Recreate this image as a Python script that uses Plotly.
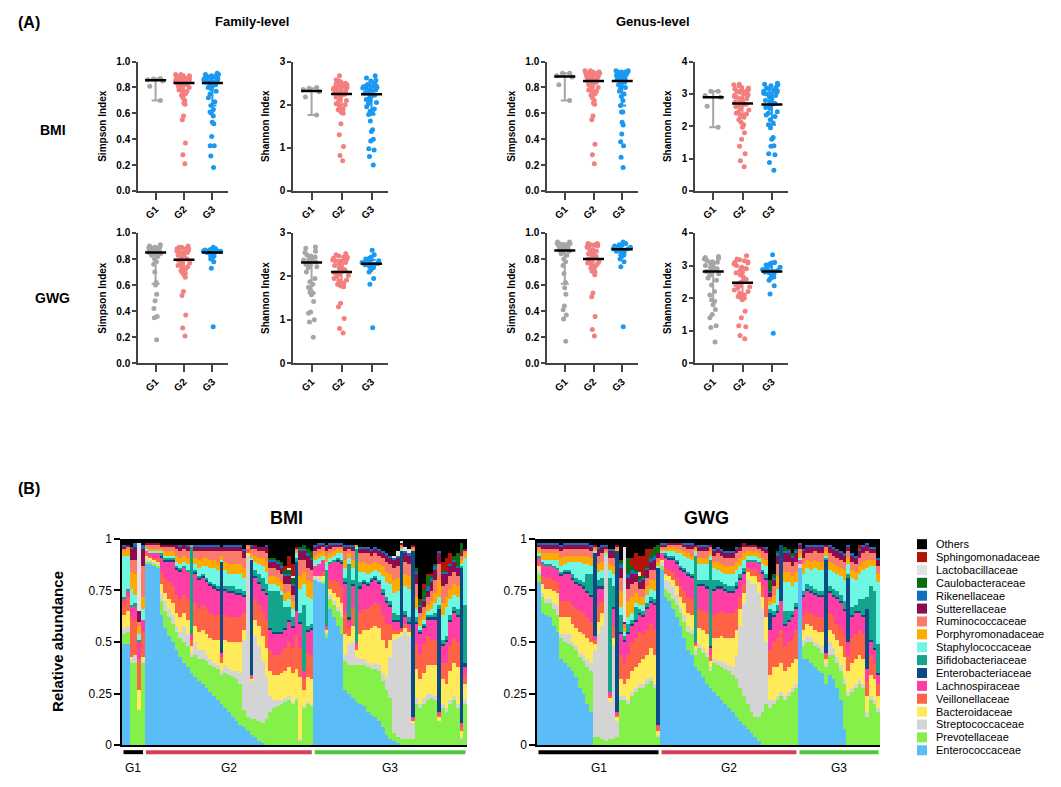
import plotly.graph_objects as go

W, H = 1061, 787
FONT = "Liberation Sans, Arial, sans-serif"

# ---------------- panel A: alpha diversity ----------------
groups = ["G1", "G2", "G3"]
group_colors = ["#a6a6a6", "#f47f7f", "#1a98f2"]

# family-level, BMI
fam_simpson_bmi_g1 = [0.87, 0.865, 0.86, 0.85, 0.81, 0.70]
fam_simpson_bmi_g2 = [0.90, 0.90, 0.89, 0.89, 0.89, 0.88, 0.88, 0.88, 0.87, 0.87, 0.87, 0.86, 0.86, 0.86, 0.86,
                      0.85, 0.85, 0.85, 0.84, 0.84, 0.84, 0.83, 0.83, 0.83, 0.82, 0.82, 0.81, 0.81, 0.80, 0.80,
                      0.79, 0.78, 0.77, 0.76, 0.75, 0.74, 0.72, 0.70, 0.68, 0.67, 0.58, 0.55, 0.37, 0.28, 0.21]
fam_simpson_bmi_g3 = [0.91, 0.90, 0.90, 0.89, 0.89, 0.88, 0.88, 0.88, 0.87, 0.87, 0.86, 0.86, 0.86, 0.85, 0.85,
                      0.84, 0.84, 0.84, 0.83, 0.83, 0.82, 0.81, 0.80, 0.80, 0.79, 0.77, 0.75, 0.72, 0.69, 0.66,
                      0.63, 0.61, 0.60, 0.58, 0.53, 0.52, 0.42, 0.35, 0.35, 0.27, 0.18]
fam_shannon_bmi_g1 = [2.40, 2.38, 2.35, 2.30, 2.18, 1.76]
fam_shannon_bmi_g2 = [2.67, 2.58, 2.55, 2.52, 2.50, 2.48, 2.46, 2.45, 2.44, 2.43, 2.42, 2.41, 2.40, 2.39, 2.38,
                      2.36, 2.35, 2.33, 2.31, 2.30, 2.28, 2.27, 2.26, 2.25, 2.24, 2.22, 2.20, 2.17, 2.14, 2.10,
                      2.06, 2.02, 2.00, 1.95, 1.90, 1.88, 1.86, 1.83, 1.82, 1.80, 1.56, 1.30, 1.03, 0.82, 0.70]
fam_shannon_bmi_g3 = [2.67, 2.62, 2.57, 2.55, 2.50, 2.47, 2.45, 2.44, 2.43, 2.42, 2.40, 2.39, 2.38, 2.36, 2.34,
                      2.33, 2.30, 2.27, 2.25, 2.24, 2.22, 2.20, 2.15, 2.12, 2.10, 2.05, 2.02, 1.95, 1.90, 1.85,
                      1.80, 1.77, 1.62, 1.42, 1.38, 1.20, 1.16, 0.98, 0.95, 0.80, 0.60]
# genus-level, BMI
gen_simpson_bmi_g1 = [0.91, 0.91, 0.89, 0.88, 0.82, 0.70]
gen_simpson_bmi_g2 = [0.93, 0.93, 0.92, 0.92, 0.92, 0.91, 0.91, 0.91, 0.90, 0.90, 0.90, 0.90, 0.89, 0.89, 0.88,
                      0.88, 0.87, 0.87, 0.86, 0.86, 0.85, 0.85, 0.85, 0.84, 0.84, 0.83, 0.82, 0.82, 0.81, 0.80,
                      0.79, 0.78, 0.77, 0.76, 0.75, 0.74, 0.72, 0.70, 0.68, 0.67, 0.58, 0.55, 0.36, 0.28, 0.21]
gen_simpson_bmi_g3 = [0.93, 0.93, 0.92, 0.92, 0.92, 0.92, 0.91, 0.91, 0.90, 0.90, 0.90, 0.89, 0.88, 0.88, 0.87,
                      0.87, 0.86, 0.86, 0.85, 0.85, 0.84, 0.84, 0.83, 0.82, 0.81, 0.80, 0.79, 0.77, 0.75, 0.73,
                      0.70, 0.66, 0.61, 0.61, 0.53, 0.51, 0.44, 0.38, 0.35, 0.26, 0.18]
gen_shannon_bmi_g1 = [3.08, 3.08, 2.95, 2.90, 2.62, 1.97]
gen_shannon_bmi_g2 = [3.30, 3.28, 3.25, 3.20, 3.18, 3.15, 3.14, 3.12, 3.10, 3.08, 3.05, 3.00, 2.98, 2.96, 2.95,
                      2.92, 2.90, 2.88, 2.85, 2.82, 2.78, 2.75, 2.72, 2.70, 2.68, 2.65, 2.62, 2.60, 2.55, 2.50,
                      2.45, 2.40, 2.38, 2.30, 2.28, 2.20, 2.12, 2.05, 1.97, 1.80, 1.60, 1.38, 1.15, 0.93, 0.75]
gen_shannon_bmi_g3 = [3.33, 3.30, 3.28, 3.25, 3.20, 3.18, 3.15, 3.12, 3.10, 3.08, 3.05, 3.02, 3.00, 2.98, 2.95,
                      2.90, 2.85, 2.80, 2.75, 2.72, 2.70, 2.67, 2.62, 2.58, 2.55, 2.45, 2.40, 2.35, 2.30, 2.20,
                      2.10, 2.05, 1.95, 1.65, 1.60, 1.40, 1.38, 1.15, 1.12, 0.88, 0.64]
# family-level, GWG
fam_simpson_gwg_g1 = [0.91, 0.90, 0.90, 0.89, 0.89, 0.89, 0.88, 0.88, 0.87, 0.87, 0.87, 0.86, 0.86, 0.85, 0.85,
                      0.85, 0.84, 0.84, 0.84, 0.83, 0.82, 0.80, 0.78, 0.76, 0.70, 0.62, 0.60, 0.53, 0.48, 0.42,
                      0.36, 0.35, 0.18]
fam_simpson_gwg_g2 = [0.90, 0.89, 0.89, 0.88, 0.88, 0.88, 0.87, 0.86, 0.86, 0.85, 0.85, 0.84, 0.83, 0.83, 0.82,
                      0.81, 0.80, 0.80, 0.79, 0.79, 0.78, 0.77, 0.76, 0.75, 0.74, 0.73, 0.72, 0.71, 0.70, 0.69,
                      0.68, 0.66, 0.55, 0.52, 0.37, 0.27, 0.21]
fam_simpson_gwg_g3 = [0.89, 0.88, 0.88, 0.87, 0.87, 0.87, 0.86, 0.86, 0.86, 0.86, 0.85, 0.85, 0.85, 0.84, 0.84,
                      0.83, 0.82, 0.81, 0.80, 0.78, 0.73, 0.28]
fam_shannon_gwg_g1 = [2.68, 2.65, 2.58, 2.55, 2.50, 2.47, 2.45, 2.42, 2.40, 2.38, 2.36, 2.35, 2.33, 2.32, 2.30,
                      2.28, 2.25, 2.22, 2.20, 2.10, 1.95, 1.88, 1.82, 1.75, 1.68, 1.62, 1.58, 1.42, 1.18, 1.15,
                      1.00, 0.95, 0.60]
fam_shannon_gwg_g2 = [2.52, 2.50, 2.47, 2.45, 2.44, 2.42, 2.40, 2.38, 2.36, 2.35, 2.32, 2.30, 2.27, 2.25, 2.20,
                      2.18, 2.15, 2.12, 2.10, 2.08, 2.05, 2.02, 2.00, 1.95, 1.92, 1.90, 1.85, 1.82, 1.80, 1.79,
                      1.78, 1.76, 1.38, 1.30, 1.03, 0.80, 0.70]
fam_shannon_gwg_g3 = [2.60, 2.50, 2.45, 2.42, 2.40, 2.38, 2.36, 2.34, 2.32, 2.30, 2.30, 2.28, 2.27, 2.26, 2.24,
                      2.22, 2.20, 2.15, 2.10, 1.95, 1.82, 0.82]
# genus-level, GWG
gen_simpson_gwg_g1 = [0.93, 0.93, 0.92, 0.92, 0.92, 0.91, 0.91, 0.91, 0.90, 0.90, 0.89, 0.89, 0.88, 0.88, 0.87,
                      0.87, 0.86, 0.86, 0.85, 0.84, 0.83, 0.80, 0.78, 0.75, 0.69, 0.62, 0.58, 0.53, 0.44, 0.41,
                      0.37, 0.34, 0.17]
gen_simpson_gwg_g2 = [0.92, 0.92, 0.91, 0.91, 0.91, 0.90, 0.90, 0.89, 0.88, 0.87, 0.86, 0.86, 0.85, 0.84, 0.83,
                      0.82, 0.82, 0.81, 0.80, 0.80, 0.79, 0.78, 0.78, 0.77, 0.76, 0.75, 0.74, 0.73, 0.72, 0.71,
                      0.70, 0.68, 0.54, 0.51, 0.36, 0.26, 0.21]
gen_simpson_gwg_g3 = [0.93, 0.92, 0.91, 0.91, 0.90, 0.90, 0.89, 0.89, 0.88, 0.88, 0.87, 0.87, 0.86, 0.86, 0.85,
                      0.84, 0.83, 0.82, 0.80, 0.78, 0.74, 0.28]
gen_shannon_gwg_g1 = [3.28, 3.25, 3.22, 3.20, 3.15, 3.12, 3.10, 3.08, 3.05, 3.00, 2.95, 2.92, 2.90, 2.88, 2.85,
                      2.82, 2.80, 2.75, 2.70, 2.62, 2.55, 2.40, 2.20, 2.10, 1.95, 1.90, 1.80, 1.65, 1.50, 1.40,
                      1.15, 1.10, 0.65]
gen_shannon_gwg_g2 = [3.30, 3.20, 3.18, 3.15, 3.12, 3.10, 3.08, 3.05, 3.00, 2.95, 2.90, 2.85, 2.80, 2.78, 2.72,
                      2.65, 2.58, 2.50, 2.47, 2.42, 2.38, 2.35, 2.30, 2.25, 2.20, 2.15, 2.10, 2.05, 2.02, 2.00,
                      1.95, 1.60, 1.40, 1.15, 1.12, 0.85, 0.75]
gen_shannon_gwg_g3 = [3.33, 3.10, 3.08, 3.05, 3.02, 3.00, 2.95, 2.90, 2.88, 2.85, 2.84, 2.82, 2.80, 2.78, 2.75,
                      2.70, 2.65, 2.62, 2.55, 2.38, 2.13, 0.92]

# median and interquartile range drawn on each scatter (G1, G2, G3)
fam_simpson_bmi_med, fam_simpson_bmi_q1, fam_simpson_bmi_q3 = [0.855, 0.835, 0.835], [0.70, 0.75, 0.66], [0.87, 0.88, 0.88]
fam_shannon_bmi_med, fam_shannon_bmi_q1, fam_shannon_bmi_q3 = [2.32, 2.25, 2.24], [1.76, 2.00, 1.77], [2.38, 2.42, 2.43]
gen_simpson_bmi_med, gen_simpson_bmi_q1, gen_simpson_bmi_q3 = [0.885, 0.85, 0.85], [0.70, 0.75, 0.66], [0.91, 0.92, 0.92]
gen_shannon_bmi_med, gen_shannon_bmi_q1, gen_shannon_bmi_q3 = [2.90, 2.70, 2.67], [1.97, 2.38, 2.05], [3.08, 3.10, 3.05]
fam_simpson_gwg_med, fam_simpson_gwg_q1, fam_simpson_gwg_q3 = [0.85, 0.795, 0.85], [0.61, 0.69, 0.82], [0.89, 0.875, 0.87]
fam_shannon_gwg_med, fam_shannon_gwg_q1, fam_shannon_gwg_q3 = [2.32, 2.10, 2.29], [1.62, 1.78, 2.20], [2.45, 2.38, 2.38]
gen_simpson_gwg_med, gen_simpson_gwg_q1, gen_simpson_gwg_q3 = [0.865, 0.80, 0.875], [0.61, 0.70, 0.83], [0.92, 0.91, 0.91]
gen_shannon_gwg_med, gen_shannon_gwg_q1, gen_shannon_gwg_q3 = [2.82, 2.47, 2.82], [1.93, 2.00, 2.62], [3.10, 2.95, 3.05]

# ---------------- panel B: relative abundance (%) per sample ----------------
families = ["Enterococcaceae", "Prevotellaceae", "Streptococcaceae", "Bacteroidaceae", "Veillonellaceae",
            "Lachnospiraceae", "Enterobacteriaceae", "Bifidobacteriaceae", "Staphylococcaceae",
            "Porphyromonadaceae", "Ruminococcaceae", "Sutterellaceae", "Rikenellaceae", "Caulobacteraceae",
            "Lactobacillaceae", "Sphingomonadaceae", "Others"]
family_colors = ["#5bbdf8", "#86f04a", "#d4d4d4", "#ffea5a", "#ff6347", "#ff3ea5", "#0b4a85", "#14a38b",
                 "#6ff7e4", "#ffaa00", "#fb7b6b", "#8b0b4e", "#1070c0", "#0c6b0c", "#e2e2e2", "#b31408", "#000000"]

bmi_group_sizes = [6, 45, 41]
gwg_group_sizes = [33, 37, 22]
group_line_colors = ["#000000", "#d8405a", "#4cc83a"]

bmi_enterococcaceae = [49, 49, 0, 0, 0, 0, 88, 88, 87, 86, 63, 57, 53, 50, 46, 43, 40, 38, 35, 33,
                       31, 30, 28, 26, 24, 22, 20, 18, 16, 14, 12, 10, 9, 7, 5, 4, 2, 1, 0, 0,
                       0, 0, 0, 0, 0, 0, 0, 0, 0, 0, 0, 80, 79, 78, 52, 66, 62, 58, 54, 27,
                       25, 23, 21, 20, 19, 16, 15, 14, 12, 9, 5, 3, 2, 1, 0, 0, 0, 0, 0, 0,
                       0, 0, 0, 0, 0, 0, 0, 0, 0, 0, 0, 0]
bmi_prevotellaceae = [5, 6, 40, 40, 17, 40, 1, 1, 1, 1, 7, 8, 9, 9, 9, 9, 10, 10, 8, 11,
                      11, 12, 13, 13, 14, 15, 14, 17, 18, 19, 20, 20, 8, 7, 8, 9, 10, 10, 13, 16,
                      18, 19, 20, 21, 22, 20, 22, 2, 18, 20, 19, 0, 0, 1, 2, 5, 6, 7, 8, 14,
                      14, 16, 18, 19, 20, 22, 22, 23, 24, 22, 22, 20, 4, 3, 3, 3, 3, 3, 20, 18,
                      20, 22, 23, 22, 12, 18, 16, 20, 22, 18, 3, 20]
bmi_streptococcaceae = [3, 3, 2, 4, 0, 1, 2, 1, 1, 1, 4, 5, 4, 4, 3, 3, 8, 6, 2, 6,
                        4, 4, 3, 3, 2, 2, 2, 4, 3, 3, 4, 5, 34, 78, 18, 40, 36, 30, 20, 8,
                        4, 3, 2, 2, 2, 1, 1, 1, 1, 1, 1, 2, 2, 1, 1, 2, 2, 2, 2, 3,
                        10, 11, 4, 3, 3, 2, 2, 3, 3, 4, 6, 20, 45, 48, 50, 52, 50, 8, 3, 2,
                        3, 3, 2, 2, 0, 2, 2, 2, 2, 2, 1, 2]
bmi_bacteroidaceae = [6, 7, 1, 0, 10, 2, 1, 1, 1, 1, 4, 4, 5, 6, 6, 7, 6, 7, 3, 8,
                      9, 10, 10, 10, 11, 12, 4, 12, 13, 14, 14, 15, 5, 1, 1, 8, 10, 12, 14, 12,
                      12, 12, 13, 13, 14, 14, 14, 30, 8, 12, 12, 0, 1, 2, 1, 3, 4, 5, 5, 10,
                      4, 8, 3, 12, 14, 16, 18, 18, 18, 16, 14, 8, 3, 2, 2, 2, 2, 1, 14, 12,
                      12, 14, 14, 15, 2, 12, 12, 14, 16, 18, 3, 8]
bmi_veillonellaceae = [6, 7, 19, 17, 15, 12, 1, 1, 1, 2, 6, 7, 8, 8, 9, 9, 9, 10, 3, 11,
                       11, 12, 12, 12, 12, 12, 3, 12, 12, 12, 12, 12, 8, 1, 1, 10, 10, 12, 14, 10,
                       10, 10, 10, 11, 12, 12, 16, 14, 5, 12, 12, 0, 0, 2, 1, 4, 6, 7, 8, 10,
                       4, 9, 2, 10, 10, 10, 11, 11, 11, 12, 12, 8, 2, 2, 1, 2, 2, 1, 12, 12,
                       14, 14, 12, 12, 1, 8, 10, 12, 12, 12, 2, 4]
bmi_lachnospiraceae = [2, 3, 5, 6, 8, 6, 1, 1, 2, 2, 7, 8, 10, 12, 12, 13, 13, 13, 3, 14,
                       14, 13, 13, 13, 13, 12, 2, 12, 12, 12, 11, 11, 8, 1, 1, 10, 10, 10, 12, 10,
                       10, 10, 9, 9, 10, 10, 12, 12, 4, 10, 12, 5, 6, 6, 1, 8, 9, 10, 11, 14,
                       4, 10, 2, 12, 12, 11, 11, 11, 10, 10, 10, 8, 4, 4, 1, 3, 2, 1, 10, 10,
                       8, 8, 10, 10, 1, 8, 10, 12, 12, 12, 2, 4]
bmi_enterobacteriaceae = [0, 0, 0, 0, 0, 0, 0, 0, 0, 0, 1, 1, 1, 1, 1, 1, 0, 0, 0, 1,
                          1, 1, 1, 1, 1, 1, 44, 1, 1, 1, 1, 1, 1, 0, 56, 1, 1, 1, 1, 1,
                          1, 1, 1, 1, 1, 1, 24, 1, 0, 1, 1, 0, 0, 0, 0, 0, 0, 1, 1, 1,
                          1, 1, 0, 1, 1, 1, 1, 1, 1, 1, 1, 1, 1, 1, 37, 1, 1, 80, 1, 1,
                          1, 1, 1, 1, 50, 1, 1, 1, 1, 1, 75, 2]
bmi_bifidobacteriaceae = [1, 1, 1, 2, 1, 0, 0, 0, 0, 0, 1, 1, 1, 1, 1, 1, 1, 1, 42, 1,
                          1, 1, 1, 1, 1, 1, 0, 1, 2, 2, 2, 2, 2, 0, 0, 3, 4, 5, 4, 18,
                          20, 20, 18, 10, 6, 4, 2, 4, 32, 2, 2, 0, 0, 0, 27, 1, 1, 1, 1, 2,
                          26, 2, 45, 2, 1, 1, 1, 1, 1, 2, 2, 2, 3, 2, 0, 2, 2, 0, 2, 1,
                          1, 1, 1, 2, 2, 2, 2, 2, 2, 3, 1, 28]
bmi_staphylococcaceae = [20, 16, 8, 4, 3, 5, 1, 1, 1, 1, 1, 1, 1, 1, 2, 2, 2, 3, 0, 3,
                         4, 4, 6, 7, 8, 8, 1, 8, 6, 6, 7, 7, 6, 0, 1, 4, 5, 6, 6, 3,
                         3, 2, 2, 3, 4, 4, 2, 12, 10, 14, 12, 3, 3, 2, 4, 2, 2, 2, 3, 5,
                         3, 6, 1, 5, 4, 4, 3, 3, 4, 6, 7, 8, 10, 12, 1, 12, 14, 0, 4, 2,
                         2, 2, 3, 5, 4, 12, 14, 8, 6, 6, 1, 23]
bmi_porphyromonadaceae = [2, 3, 8, 10, 4, 6, 1, 1, 1, 1, 1, 2, 2, 2, 3, 3, 3, 3, 0, 3,
                          4, 4, 4, 4, 4, 4, 2, 4, 5, 5, 5, 5, 5, 1, 2, 3, 3, 4, 5, 4,
                          4, 4, 4, 4, 4, 4, 1, 6, 6, 8, 8, 2, 2, 2, 3, 2, 2, 2, 2, 4,
                          2, 4, 1, 5, 5, 5, 4, 4, 4, 5, 5, 5, 6, 6, 1, 6, 6, 1, 6, 3,
                          3, 3, 4, 5, 8, 6, 5, 5, 5, 5, 2, 2]
bmi_ruminococcaceae = [1, 1, 6, 7, 2, 15, 1, 2, 2, 2, 1, 2, 2, 2, 3, 3, 3, 3, 1, 3,
                       4, 3, 3, 4, 4, 5, 2, 5, 6, 6, 6, 6, 5, 1, 2, 3, 3, 3, 4, 4,
                       4, 4, 4, 4, 3, 3, 1, 8, 6, 6, 6, 2, 2, 2, 2, 2, 2, 1, 1, 4,
                       2, 4, 0, 4, 4, 5, 4, 4, 4, 4, 5, 5, 6, 6, 1, 6, 6, 1, 6, 3,
                       3, 4, 5, 6, 8, 8, 6, 6, 6, 5, 2, 1]
bmi_sutterellaceae = [1, 1, 5, 6, 5, 8, 1, 1, 1, 1, 1, 1, 1, 1, 2, 2, 2, 2, 0, 2,
                      2, 2, 2, 2, 2, 2, 2, 2, 2, 2, 2, 2, 3, 0, 1, 2, 2, 2, 3, 3,
                      3, 3, 3, 4, 4, 4, 1, 4, 4, 6, 5, 2, 2, 1, 2, 2, 1, 1, 1, 2,
                      1, 2, 0, 2, 2, 2, 2, 2, 2, 2, 3, 3, 4, 4, 1, 4, 4, 1, 5, 3,
                      3, 3, 4, 5, 5, 6, 5, 5, 5, 4, 1, 1]
bmi_rikenellaceae = [1, 0, 1, 2, 0, 2, 0, 0, 0, 0, 0, 0, 0, 0, 0, 1, 0, 1, 0, 1,
                     1, 1, 1, 1, 1, 1, 0, 1, 1, 1, 1, 1, 1, 0, 1, 0, 0, 0, 1, 1,
                     1, 1, 1, 1, 1, 1, 0, 1, 1, 1, 1, 1, 1, 1, 1, 1, 1, 1, 1, 1,
                     1, 1, 0, 1, 1, 1, 1, 1, 1, 1, 1, 1, 1, 1, 0, 1, 1, 0, 1, 1,
                     1, 2, 2, 2, 1, 1, 1, 1, 1, 1, 0, 0]
bmi_caulobacteraceae = [0, 0, 0, 0, 0, 0, 0, 0, 0, 0, 0, 0, 0, 0, 0, 0, 0, 0, 0, 0,
                        0, 0, 0, 0, 0, 0, 0, 0, 0, 0, 0, 0, 0, 0, 0, 0, 0, 0, 0, 1,
                        1, 1, 2, 2, 2, 3, 0, 1, 2, 2, 3, 0, 0, 0, 0, 0, 0, 0, 0, 0,
                        0, 0, 0, 0, 0, 0, 0, 0, 0, 0, 0, 0, 0, 0, 0, 0, 0, 0, 2, 2,
                        5, 5, 1, 1, 0, 1, 0, 0, 2, 6, 5, 0]
bmi_lactobacillaceae = [0, 0, 0, 0, 33, 0, 0, 0, 0, 0, 0, 0, 0, 0, 0, 0, 0, 0, 0, 0,
                        0, 0, 0, 0, 0, 0, 0, 0, 0, 0, 0, 0, 0, 0, 0, 0, 0, 0, 0, 0,
                        0, 0, 0, 0, 1, 1, 0, 0, 0, 0, 0, 0, 0, 0, 0, 0, 0, 0, 0, 0,
                        0, 0, 0, 0, 0, 0, 0, 0, 0, 0, 0, 0, 1, 2, 1, 2, 2, 0, 0, 0,
                        0, 0, 0, 0, 0, 0, 0, 0, 0, 0, 0, 0]
bmi_sphingomonadaceae = [0, 0, 0, 0, 0, 0, 0, 0, 0, 0, 0, 0, 0, 0, 0, 0, 0, 0, 0, 0,
                         0, 0, 0, 0, 0, 0, 0, 0, 0, 0, 0, 0, 0, 0, 0, 0, 0, 0, 0, 0,
                         0, 0, 0, 2, 6, 6, 0, 0, 0, 0, 0, 0, 0, 0, 0, 0, 0, 0, 0, 0,
                         0, 0, 0, 0, 0, 0, 0, 0, 0, 0, 0, 0, 0, 0, 0, 0, 0, 0, 0, 1,
                         2, 1, 1, 0, 0, 4, 7, 5, 0, 0, 0, 0]

gwg_enterococcaceae = [79, 64, 63, 62, 58, 55, 42, 40, 38, 36, 33, 28, 25, 20, 16, 0, 0, 0, 0, 0,
                       0, 0, 0, 0, 0, 0, 0, 0, 0, 0, 0, 0, 0, 85, 72, 70, 66, 62, 58, 52,
                       46, 44, 38, 36, 33, 30, 28, 26, 24, 22, 20, 18, 16, 14, 12, 10, 8, 6, 4, 2,
                       0, 0, 0, 0, 0, 0, 0, 0, 0, 0, 86, 42, 42, 40, 38, 36, 35, 30, 34, 32,
                       28, 22, 8, 0, 0, 0, 0, 0, 0, 0, 0, 0]
gwg_prevotellaceae = [4, 8, 6, 7, 8, 8, 10, 10, 11, 12, 13, 15, 16, 18, 20, 4, 4, 3, 2, 3,
                      3, 4, 22, 22, 20, 24, 26, 28, 28, 30, 31, 28, 4, 2, 4, 4, 5, 6, 6, 8,
                      9, 10, 6, 11, 12, 13, 8, 14, 15, 16, 17, 18, 18, 18, 16, 14, 12, 10, 10, 12,
                      16, 20, 18, 20, 22, 24, 22, 24, 26, 28, 0, 6, 8, 10, 10, 11, 10, 8, 10, 12,
                      12, 14, 22, 24, 26, 28, 30, 28, 14, 22, 20, 16]
gwg_streptococcaceae = [2, 2, 2, 2, 3, 5, 2, 4, 5, 2, 2, 2, 3, 4, 4, 42, 50, 55, 90, 18,
                        45, 8, 2, 2, 2, 2, 2, 2, 2, 2, 2, 2, 1, 2, 4, 5, 6, 5, 3, 3,
                        3, 2, 2, 2, 2, 2, 2, 2, 2, 3, 3, 3, 4, 12, 30, 45, 60, 62, 64, 60,
                        50, 30, 4, 2, 2, 2, 2, 2, 2, 2, 2, 3, 3, 2, 2, 2, 3, 2, 6, 3,
                        3, 3, 3, 2, 2, 2, 2, 2, 2, 2, 2, 2]
gwg_bacteroidaceae = [2, 4, 5, 5, 6, 6, 8, 8, 8, 9, 9, 10, 10, 10, 10, 3, 6, 6, 0, 2,
                      4, 2, 8, 6, 10, 10, 10, 10, 12, 12, 14, 14, 2, 1, 3, 3, 3, 4, 5, 6,
                      6, 7, 2, 8, 9, 9, 3, 10, 11, 12, 12, 13, 14, 12, 8, 5, 4, 4, 4, 5,
                      6, 12, 12, 16, 14, 14, 12, 12, 12, 12, 0, 5, 6, 6, 6, 6, 7, 2, 6, 7,
                      8, 9, 10, 10, 12, 12, 12, 12, 8, 10, 10, 6]
gwg_veillonellaceae = [1, 4, 5, 5, 5, 5, 8, 8, 8, 9, 9, 10, 10, 10, 10, 2, 8, 6, 0, 1,
                       6, 1, 12, 10, 12, 14, 14, 15, 12, 12, 12, 12, 2, 1, 3, 3, 4, 4, 5, 6,
                       8, 8, 1, 9, 9, 10, 3, 11, 12, 12, 12, 12, 12, 10, 6, 4, 2, 3, 3, 4,
                       5, 10, 12, 12, 14, 16, 12, 12, 12, 14, 0, 6, 6, 6, 7, 7, 7, 2, 8, 8,
                       8, 9, 10, 8, 12, 12, 12, 12, 7, 10, 8, 6]
gwg_lachnospiraceae = [3, 6, 6, 6, 6, 6, 12, 13, 13, 12, 12, 12, 12, 12, 12, 2, 8, 6, 0, 2,
                       8, 1, 10, 10, 10, 8, 8, 8, 8, 10, 10, 12, 1, 2, 5, 5, 6, 7, 8, 9,
                       10, 10, 1, 11, 12, 12, 3, 12, 12, 11, 11, 10, 10, 10, 8, 5, 3, 4, 4, 5,
                       6, 8, 10, 12, 12, 14, 10, 10, 10, 10, 2, 10, 10, 10, 10, 10, 10, 1, 10, 10,
                       12, 12, 12, 6, 10, 10, 8, 8, 6, 6, 6, 4]
gwg_enterobacteriaceae = [0, 0, 0, 0, 0, 0, 1, 1, 1, 1, 1, 1, 1, 1, 1, 40, 1, 1, 0, 0,
                          1, 78, 1, 1, 1, 1, 1, 1, 1, 1, 1, 1, 76, 0, 1, 1, 1, 1, 1, 1,
                          1, 1, 0, 1, 1, 1, 1, 1, 1, 1, 1, 1, 1, 1, 1, 1, 0, 0, 0, 0,
                          1, 1, 8, 1, 1, 27, 1, 1, 1, 1, 0, 1, 1, 1, 1, 1, 1, 45, 1, 1,
                          1, 1, 1, 31, 1, 1, 1, 1, 29, 1, 1, 1]
gwg_bifidobacteriaceae = [1, 1, 1, 1, 1, 1, 1, 1, 1, 2, 2, 2, 2, 8, 10, 0, 3, 4, 0, 55,
                          10, 0, 8, 2, 4, 2, 6, 2, 2, 2, 2, 2, 0, 0, 1, 1, 1, 1, 1, 1,
                          1, 1, 42, 2, 2, 3, 42, 4, 3, 2, 2, 2, 2, 2, 2, 2, 1, 1, 1, 1,
                          1, 2, 2, 2, 3, 0, 6, 4, 2, 2, 0, 2, 2, 2, 2, 2, 2, 1, 2, 3,
                          3, 3, 4, 2, 4, 3, 6, 8, 6, 26, 28, 14]
gwg_staphylococcaceae = [1, 1, 2, 2, 3, 4, 3, 3, 4, 6, 8, 9, 9, 5, 4, 1, 4, 4, 1, 4,
                         6, 0, 4, 2, 3, 3, 2, 2, 3, 4, 4, 4, 1, 1, 1, 2, 2, 3, 6, 6,
                         7, 7, 2, 8, 8, 8, 2, 6, 5, 5, 5, 6, 6, 6, 4, 4, 2, 2, 2, 2,
                         3, 4, 2, 4, 8, 0, 14, 14, 12, 10, 1, 8, 8, 8, 10, 10, 10, 1, 8, 8,
                         8, 9, 10, 5, 14, 12, 12, 14, 14, 10, 12, 30]
gwg_porphyromonadaceae = [2, 3, 3, 3, 3, 3, 4, 4, 3, 3, 3, 3, 4, 4, 4, 1, 4, 4, 1, 3,
                          4, 1, 8, 2, 8, 8, 5, 4, 4, 4, 4, 5, 2, 1, 1, 2, 2, 2, 2, 2,
                          2, 2, 1, 3, 3, 3, 2, 3, 4, 4, 4, 4, 4, 4, 4, 3, 2, 2, 2, 2,
                          3, 3, 2, 4, 6, 0, 5, 5, 5, 5, 2, 5, 4, 4, 4, 4, 4, 2, 4, 4,
                          4, 4, 5, 3, 4, 4, 4, 4, 4, 3, 3, 4]
gwg_ruminococcaceae = [1, 2, 2, 2, 2, 2, 3, 3, 3, 3, 3, 3, 3, 3, 3, 1, 4, 4, 1, 3,
                       4, 1, 6, 2, 6, 6, 5, 4, 4, 4, 5, 5, 2, 1, 1, 1, 1, 2, 2, 2,
                       2, 3, 1, 3, 3, 3, 2, 3, 4, 4, 4, 4, 4, 4, 3, 3, 2, 2, 2, 2,
                       3, 3, 2, 4, 6, 0, 5, 5, 5, 5, 2, 3, 3, 4, 4, 4, 4, 2, 4, 4,
                       4, 4, 4, 3, 4, 4, 4, 4, 4, 3, 3, 4]
gwg_sutterellaceae = [1, 2, 2, 2, 2, 2, 2, 2, 2, 2, 2, 2, 2, 2, 2, 1, 3, 3, 1, 3,
                      3, 1, 5, 1, 5, 5, 4, 3, 4, 4, 4, 5, 2, 1, 1, 1, 1, 1, 1, 1,
                      2, 2, 1, 2, 2, 2, 1, 2, 2, 2, 2, 2, 2, 2, 2, 2, 1, 1, 1, 1,
                      2, 2, 2, 3, 4, 0, 4, 4, 4, 4, 2, 3, 3, 3, 2, 3, 3, 1, 3, 3,
                      3, 3, 3, 2, 3, 3, 3, 3, 3, 2, 2, 3]
gwg_rikenellaceae = [1, 1, 1, 1, 1, 1, 1, 1, 1, 1, 1, 1, 1, 1, 1, 0, 1, 1, 1, 1,
                     1, 0, 2, 0, 2, 2, 1, 1, 1, 1, 2, 2, 0, 1, 1, 0, 0, 0, 0, 1,
                     1, 1, 0, 1, 1, 1, 0, 1, 1, 1, 1, 1, 1, 1, 0, 0, 0, 0, 0, 0,
                     0, 1, 1, 1, 1, 0, 1, 1, 1, 1, 1, 1, 1, 1, 1, 1, 1, 0, 1, 1,
                     1, 1, 1, 1, 1, 1, 1, 1, 1, 1, 1, 1]
gwg_caulobacteraceae = [0, 0, 0, 0, 0, 0, 0, 0, 0, 0, 0, 0, 0, 0, 0, 0, 0, 0, 0, 0,
                        0, 0, 2, 0, 8, 2, 1, 2, 1, 1, 2, 4, 4, 0, 0, 0, 0, 0, 0, 0,
                        0, 0, 0, 0, 0, 0, 0, 0, 0, 0, 0, 0, 0, 0, 0, 0, 0, 0, 0, 0,
                        0, 0, 5, 2, 1, 0, 2, 1, 1, 1, 0, 0, 0, 0, 0, 0, 0, 0, 0, 0,
                        0, 0, 0, 0, 0, 0, 0, 0, 0, 0, 0, 0]
gwg_lactobacillaceae = [0, 0, 0, 0, 0, 0, 0, 0, 0, 0, 0, 0, 0, 0, 0, 0, 0, 0, 0, 0,
                        0, 0, 0, 36, 0, 0, 0, 2, 0, 0, 0, 0, 0, 0, 0, 0, 0, 0, 0, 0,
                        0, 0, 0, 0, 0, 0, 0, 0, 0, 0, 0, 0, 0, 0, 0, 0, 0, 0, 0, 0,
                        0, 0, 0, 0, 0, 0, 0, 0, 0, 0, 0, 0, 0, 0, 0, 0, 0, 0, 0, 0,
                        0, 0, 0, 0, 0, 0, 0, 0, 0, 0, 0, 0]
gwg_sphingomonadaceae = [0, 0, 0, 0, 0, 0, 0, 0, 0, 0, 0, 0, 0, 0, 0, 0, 0, 0, 0, 0,
                         0, 0, 0, 0, 0, 4, 8, 8, 10, 8, 2, 0, 0, 0, 0, 0, 0, 0, 0, 0,
                         0, 0, 0, 0, 0, 0, 0, 0, 0, 0, 0, 0, 0, 0, 0, 0, 0, 0, 0, 0,
                         0, 0, 0, 0, 0, 0, 0, 0, 0, 0, 0, 0, 0, 0, 0, 0, 0, 0, 0, 0,
                         0, 0, 0, 0, 0, 0, 2, 0, 0, 0, 0, 0]

bmi_named = [bmi_enterococcaceae, bmi_prevotellaceae, bmi_streptococcaceae, bmi_bacteroidaceae,
             bmi_veillonellaceae, bmi_lachnospiraceae, bmi_enterobacteriaceae, bmi_bifidobacteriaceae,
             bmi_staphylococcaceae, bmi_porphyromonadaceae, bmi_ruminococcaceae, bmi_sutterellaceae,
             bmi_rikenellaceae, bmi_caulobacteraceae, bmi_lactobacillaceae, bmi_sphingomonadaceae]
gwg_named = [gwg_enterococcaceae, gwg_prevotellaceae, gwg_streptococcaceae, gwg_bacteroidaceae,
             gwg_veillonellaceae, gwg_lachnospiraceae, gwg_enterobacteriaceae, gwg_bifidobacteriaceae,
             gwg_staphylococcaceae, gwg_porphyromonadaceae, gwg_ruminococcaceae, gwg_sutterellaceae,
             gwg_rikenellaceae, gwg_caulobacteraceae, gwg_lactobacillaceae, gwg_sphingomonadaceae]


# page positions measured on the target picture, corrected for the page offset
def px(x):
    return (x - 8) / W


def py(y):
    return 1 - ((y - 15.5) / 0.98) / H


fig = go.Figure()
layout = {}
annotations = []
shapes = []
axis_col = "#444444"

# panel A layout (pixel boxes of each small plot)
col_px = [(138, 228), (293, 388), (547, 638), (695, 788)]
row_px = [(62, 191), (233, 363)]

panels = [
    ([fam_simpson_bmi_g1, fam_simpson_bmi_g2, fam_simpson_bmi_g3], fam_simpson_bmi_med, fam_simpson_bmi_q1, fam_simpson_bmi_q3, "Simpson Index", 1.0, 0.2, ".1f"),
    ([fam_shannon_bmi_g1, fam_shannon_bmi_g2, fam_shannon_bmi_g3], fam_shannon_bmi_med, fam_shannon_bmi_q1, fam_shannon_bmi_q3, "Shannon Index", 3, 1, "d"),
    ([gen_simpson_bmi_g1, gen_simpson_bmi_g2, gen_simpson_bmi_g3], gen_simpson_bmi_med, gen_simpson_bmi_q1, gen_simpson_bmi_q3, "Simpson Index", 1.0, 0.2, ".1f"),
    ([gen_shannon_bmi_g1, gen_shannon_bmi_g2, gen_shannon_bmi_g3], gen_shannon_bmi_med, gen_shannon_bmi_q1, gen_shannon_bmi_q3, "Shannon Index", 4, 1, "d"),
    ([fam_simpson_gwg_g1, fam_simpson_gwg_g2, fam_simpson_gwg_g3], fam_simpson_gwg_med, fam_simpson_gwg_q1, fam_simpson_gwg_q3, "Simpson Index", 1.0, 0.2, ".1f"),
    ([fam_shannon_gwg_g1, fam_shannon_gwg_g2, fam_shannon_gwg_g3], fam_shannon_gwg_med, fam_shannon_gwg_q1, fam_shannon_gwg_q3, "Shannon Index", 3, 1, "d"),
    ([gen_simpson_gwg_g1, gen_simpson_gwg_g2, gen_simpson_gwg_g3], gen_simpson_gwg_med, gen_simpson_gwg_q1, gen_simpson_gwg_q3, "Simpson Index", 1.0, 0.2, ".1f"),
    ([gen_shannon_gwg_g1, gen_shannon_gwg_g2, gen_shannon_gwg_g3], gen_shannon_gwg_med, gen_shannon_gwg_q1, gen_shannon_gwg_q3, "Shannon Index", 4, 1, "d"),
]

for k, (pts, med, q1, q3, ytitle, ymax, dtick, fmt) in enumerate(panels):
    n = k + 1
    x0, x1 = col_px[k % 4]
    y0, y1 = row_px[k // 4]
    layout[f"xaxis{n}"] = dict(
        domain=[px(x0), px(x1)], anchor=f"y{n}", type="category",
        categoryorder="array", categoryarray=groups, range=[-0.62, 2.55],
        showline=True, linecolor=axis_col, linewidth=1.5, ticks="outside", ticklen=7,
        tickwidth=1.5, tickcolor=axis_col, tickangle=-45, showgrid=False, zeroline=False,
        tickfont=dict(size=10, color="black", weight="bold", family=FONT))
    layout[f"yaxis{n}"] = dict(
        domain=[py(y1), py(y0)], anchor=f"x{n}", range=[0, ymax], dtick=dtick, tickformat=fmt,
        showline=True, linecolor=axis_col, linewidth=1.5, ticks="outside", ticklen=4,
        tickwidth=1.5, tickcolor=axis_col, showgrid=False, zeroline=False,
        tickfont=dict(size=10, color="black", weight="bold", family=FONT),
        title=dict(text=ytitle, standoff=8, font=dict(size=10, color="black", weight="bold", family=FONT)))
    for g, vals, c in zip(groups, pts, group_colors):
        fig.add_trace(go.Box(
            x=[g] * len(vals), y=vals, xaxis=f"x{n}", yaxis=f"y{n}",
            boxpoints="all", jitter=0.9, pointpos=0, width=0.72,
            fillcolor="rgba(0,0,0,0)", line=dict(color="rgba(0,0,0,0)", width=0),
            marker=dict(color=c, size=5), showlegend=False, hoveron="points"))
    for g, m, lo, hi, c in zip(groups, med, q1, q3, group_colors):
        fig.add_trace(go.Scatter(
            x=[g], y=[m], xaxis=f"x{n}", yaxis=f"y{n}", mode="markers",
            marker=dict(symbol="line-ew", size=15, color="black", line=dict(color="black", width=2.5)),
            error_y=dict(type="data", symmetric=False, array=[hi - m], arrayminus=[m - lo],
                         color=c, thickness=2, width=4),
            showlegend=False))

# panel B: stacked relative abundance
bar_panels = [("BMI", bmi_named, bmi_group_sizes, (122, 467), 286),
              ("GWG", gwg_named, gwg_group_sizes, (537, 880), 706)]
yb_top, yb_bot = 538, 744

for j, (title, named, sizes, (x0, x1), title_x) in enumerate(bar_panels):
    n = 9 + j
    n_samples = len(named[0])
    others = [max(0, 100 - sum(col)) for col in zip(*named)]
    series = named + [others]
    xs = list(range(n_samples))
    for fam, color, vals in zip(families, family_colors, series):
        fig.add_trace(go.Bar(
            x=xs, y=[v / 100 for v in vals], xaxis=f"x{n}", yaxis=f"y{n}", name=fam,
            marker=dict(color=color, line=dict(width=0)), showlegend=False))
    layout[f"xaxis{n}"] = dict(
        domain=[px(x0), px(x1)], anchor=f"y{n}", range=[-0.5, n_samples - 0.5],
        showline=True, linecolor="black", linewidth=1.5, showticklabels=False, ticks="",
        showgrid=False, zeroline=False)
    layout[f"yaxis{n}"] = dict(
        domain=[py(yb_bot), py(yb_top)], anchor=f"x{n}", range=[0, 1],
        tickvals=[0, 0.25, 0.5, 0.75, 1], ticktext=["0", "0.25", "0.5", "0.75", "1"],
        showline=True, linecolor="black", linewidth=1.5, ticks="outside", ticklen=6,
        tickwidth=1.5, tickcolor="black", showgrid=False, zeroline=False,
        tickfont=dict(size=12, color="black", family=FONT))
    annotations.append(dict(text=title, xref="paper", yref="paper", x=px(title_x), y=py(517),
                            xanchor="center", yanchor="middle", showarrow=False,
                            font=dict(size=18, weight="bold", color="black", family=FONT)))
    start = 0
    for g, size, lc in zip(groups, sizes, group_line_colors):
        shapes.append(dict(type="line", xref=f"x{n}", yref="paper",
                           x0=start - 0.5 + 0.4, x1=start + size - 0.5 - 0.4,
                           y0=py(751), y1=py(751), line=dict(color=lc, width=4)))
        annotations.append(dict(text=g, xref=f"x{n}", yref="paper", x=start + (size - 1) / 2, y=py(767),
                                xanchor="center", yanchor="middle", showarrow=False,
                                font=dict(size=12, color="black", family=FONT)))
        start += size

# legend drawn as swatches + labels, top item is "Others"
for i, (fam, color) in enumerate(zip(families[::-1], family_colors[::-1])):
    yc = 543.5 + i * 12.85
    shapes.append(dict(type="rect", xref="paper", yref="paper", x0=px(917), x1=px(927),
                       y0=py(yc + 5), y1=py(yc - 5), fillcolor=color, line=dict(width=0)))
    annotations.append(dict(text=fam, xref="paper", yref="paper", x=px(934), y=py(yc), xanchor="left",
                            yanchor="middle", showarrow=False, font=dict(size=11, color="black", family=FONT)))

# panel and row labels
for text, x, y, size in [("(A)", 29, 23, 16), ("(B)", 29, 488, 16), ("Family-level", 252, 22, 13),
                         ("Genus-level", 653, 22, 13), ("BMI", 53, 130, 14), ("GWG", 52, 298, 14)]:
    annotations.append(dict(text=text, xref="paper", yref="paper", x=px(x), y=py(y), showarrow=False,
                            xanchor="center", yanchor="middle",
                            font=dict(size=size, weight="bold", color="black", family=FONT)))
annotations.append(dict(text="Relative abundance", xref="paper", yref="paper", x=px(58), y=py(641),
                        xanchor="center", yanchor="middle", textangle=-90, showarrow=False,
                        font=dict(size=15, weight="bold", color="black", family=FONT)))

fig.update_layout(
    width=W, height=H, autosize=False, margin=dict(l=0, r=0, t=0, b=0),
    paper_bgcolor="white", plot_bgcolor="white", font=dict(family=FONT, color="black"),
    barmode="stack", bargap=0, boxmode="overlay", showlegend=False,
    annotations=annotations, shapes=shapes, **layout)

fig.write_html("out.html")
